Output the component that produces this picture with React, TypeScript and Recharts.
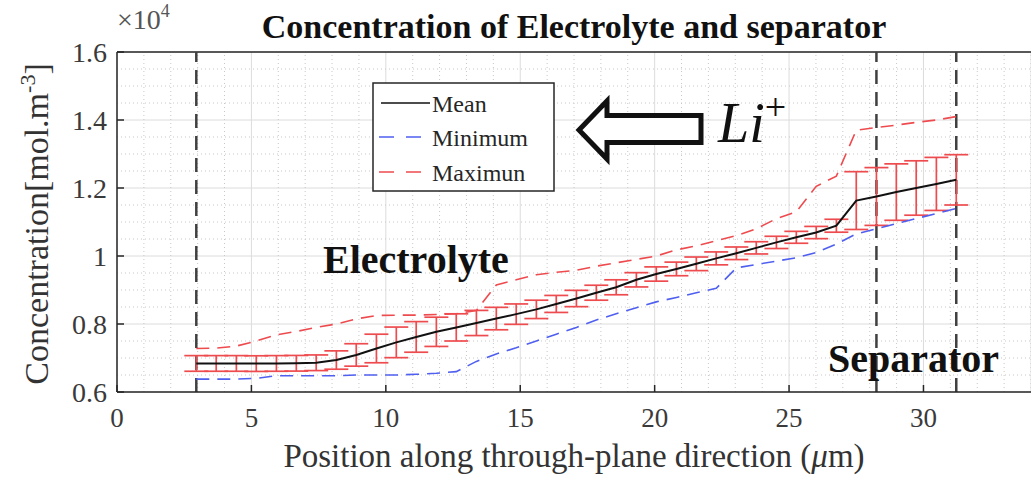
import { ComposedChart, Line, XAxis, YAxis, ReferenceLine, ErrorBar, CartesianGrid } from 'recharts';

// positions along the through-plane direction (µm)
const positions = [
  2.95, 3.69, 4.44, 5.18, 5.93, 6.67, 7.41, 8.16, 8.9, 9.65,
  10.39, 11.13, 11.88, 12.62, 13.37, 14.11, 14.85, 15.6, 16.34, 17.09,
  17.83, 18.57, 19.32, 20.06, 20.81, 21.55, 22.29, 23.04, 23.78, 24.53,
  25.27, 26.01, 26.76, 27.5, 28.25, 28.99, 29.73, 30.48, 31.22,
];

// concentrations in mol/m^3
const meanConc = [
  6840, 6840, 6840, 6835, 6840, 6845, 6860, 6940, 7090, 7280,
  7460, 7620, 7770, 7900, 8030, 8160, 8290, 8430, 8590, 8750,
  8920, 9080, 9300, 9470, 9620, 9770, 9930, 10080, 10240, 10400,
  10550, 10690, 10890, 11630, 11750, 11880, 12000, 12120, 12240,
];
const minConc = [
  6380, 6380, 6380, 6400, 6480, 6480, 6480, 6480, 6500, 6500,
  6500, 6520, 6550, 6600, 6900, 7120, 7300, 7500, 7700, 7900,
  8120, 8300, 8480, 8650, 8780, 8920, 9050, 9650, 9750, 9850,
  9950, 10100, 10350, 10650, 10800, 10950, 11100, 11250, 11400,
];
const maxConc = [
  7280, 7290, 7350, 7500, 7680, 7780, 7900, 8000, 8150, 8250,
  8260, 8260, 8280, 8300, 8400, 9150, 9300, 9450, 9520, 9580,
  9700, 9800, 9900, 10000, 10180, 10300, 10450, 10600, 10800, 11100,
  11300, 12050, 12350, 13700, 13780, 13850, 13930, 14000, 14100,
];
const spreadConc = [
  230, 230, 230, 230, 230, 230, 230, 270, 330, 420,
  450, 450, 430, 400, 370, 330, 300, 270, 250, 240,
  220, 220, 210, 210, 200, 200, 190, 185, 180, 180,
  175, 180, 190, 850, 850, 830, 800, 780, 740,
];

const xTicks = [0, 5, 10, 15, 20, 25, 30];
const yTicks = [6000, 8000, 10000, 12000, 14000, 16000];
const boundaries = [2.95, 28.25, 31.22];

const xMinor = Array.from({ length: 34 }, (_, i) => i + 1).filter((v) => v % 5 !== 0);
const yMinor = Array.from({ length: 20 }, (_, i) => 6000 + i * 500).filter((v) => v % 2000 !== 0);

const data = positions.map((x, i) => ({
  x,
  mean: meanConc[i],
  min: minConc[i],
  max: maxConc[i],
  err: spreadConc[i],
}));

const SERIF = "'Liberation Serif', 'Times New Roman', serif";
const RED = '#ee4b4f';
const BLUE = '#4f5ff0';

export default function App() {
  return (
    <div style={{ position: 'absolute', left: 0, top: 0, width: 1031, height: 479, background: '#fff', overflow: 'hidden' }}>
      <ComposedChart width={1031} height={479} data={data} margin={{ top: 52, right: 0, bottom: 0, left: 0 }}>
        <CartesianGrid stroke="#dcdcdc" strokeWidth={1} />
        {xMinor.map((v) => (
          <ReferenceLine key={'vx' + v} x={v} stroke="#c8c8c8" strokeDasharray="1 3" />
        ))}
        {yMinor.map((v) => (
          <ReferenceLine key={'hy' + v} y={v} stroke="#c8c8c8" strokeDasharray="1 3" />
        ))}
        <ReferenceLine y={16000} stroke="#262626" strokeWidth={1.5} />
        {boundaries.map((v) => (
          <ReferenceLine key={'b' + v} x={v} stroke="#404040" strokeWidth={2.5} strokeDasharray="14 8" />
        ))}
        <XAxis
          type="number"
          dataKey="x"
          domain={[0, 34]}
          ticks={xTicks}
          allowDataOverflow
          height={87}
          tickSize={-7}
          tickMargin={23}
          stroke="#262626"
          strokeWidth={1.5}
          tick={{ fill: '#3a3a3a', fontSize: 27, fontFamily: SERIF }}
        />
        <YAxis
          type="number"
          domain={[6000, 16000]}
          ticks={yTicks}
          allowDataOverflow
          width={117}
          tickSize={-7}
          tickMargin={17}
          stroke="#262626"
          strokeWidth={1.5}
          tickFormatter={(v) => String(v / 10000)}
          tick={{ fill: '#3a3a3a', fontSize: 28, fontFamily: SERIF }}
        />
        {/* error bars drawn under the mean line */}
        <Line dataKey="mean" stroke="none" dot={false} isAnimationActive={false}>
          <ErrorBar dataKey="err" direction="y" width={12} stroke={RED} strokeWidth={1.7} />
        </Line>
        <Line dataKey="mean" type="linear" stroke="#111" strokeWidth={2} dot={false} isAnimationActive={false} />
        <Line dataKey="min" type="linear" stroke={BLUE} strokeWidth={1.6} strokeDasharray="13 8" dot={false} isAnimationActive={false} />
        <Line dataKey="max" type="linear" stroke={RED} strokeWidth={1.6} strokeDasharray="13 8" dot={false} isAnimationActive={false} />
      </ComposedChart>

      <svg width={1031} height={479} style={{ position: 'absolute', left: 0, top: 0, pointerEvents: 'none' }}>
        <text x={574} y={38} textAnchor="middle" fontFamily={SERIF} fontWeight="bold" fontSize={34} fill="#111">
          Concentration of Electrolyte and separator
        </text>
        <text x={117} y={29} fontFamily={SERIF} fontSize={28} fill="#555">
          ×10<tspan dy={-12} fontSize={18}>4</tspan>
        </text>
        <text x={574} y={467} textAnchor="middle" fontFamily={SERIF} fontSize={33} fill="#333">
          Position along through-plane direction (<tspan fontStyle="italic">μ</tspan>m)
        </text>
        <text
          transform="translate(48,224) rotate(-90)"
          textAnchor="middle"
          fontFamily={SERIF}
          fontSize={34}
          fill="#333"
        >
          Concentration[mol.m<tspan dy={-13} fontSize={22}>-3</tspan><tspan dy={13}>]</tspan>
        </text>

        {/* legend */}
        <rect x={373} y={83} width={181} height={108} fill="#fff" stroke="#262626" strokeWidth={1.5} />
        <line x1={381} x2={430} y1={103} y2={103} stroke="#111" strokeWidth={1.5} />
        <line x1={379} x2={430} y1={137} y2={137} stroke={BLUE} strokeWidth={1.5} strokeDasharray="15 12" />
        <line x1={379} x2={430} y1={172} y2={172} stroke={RED} strokeWidth={1.5} strokeDasharray="15 12" />
        <text x={432} y={112} fontFamily={SERIF} fontSize={24} fill="#262626">Mean</text>
        <text x={432} y={146} fontFamily={SERIF} fontSize={24} fill="#262626">Minimum</text>
        <text x={432} y={181} fontFamily={SERIF} fontSize={24} fill="#262626">Maximun</text>

        {/* Li+ arrow */}
        <path
          d="M579,130 L607,101 L607,115.5 L701,115.5 L701,142.5 L607,142.5 L607,159 Z"
          fill="#fff"
          stroke="#111"
          strokeWidth={5}
          strokeLinejoin="miter"
        />
        <text x={718} y={142} fontFamily={SERIF} fontStyle="italic" fontSize={56} fill="#111">
          Li<tspan dy={-22} fontSize={38} fontStyle="normal">+</tspan>
        </text>

        <text x={323} y={273} fontFamily={SERIF} fontWeight="bold" fontSize={40} fill="#111">Electrolyte</text>
        <text x={828} y={372} fontFamily={SERIF} fontWeight="bold" fontSize={40} fill="#111">Separator</text>
      </svg>
    </div>
  );
}
